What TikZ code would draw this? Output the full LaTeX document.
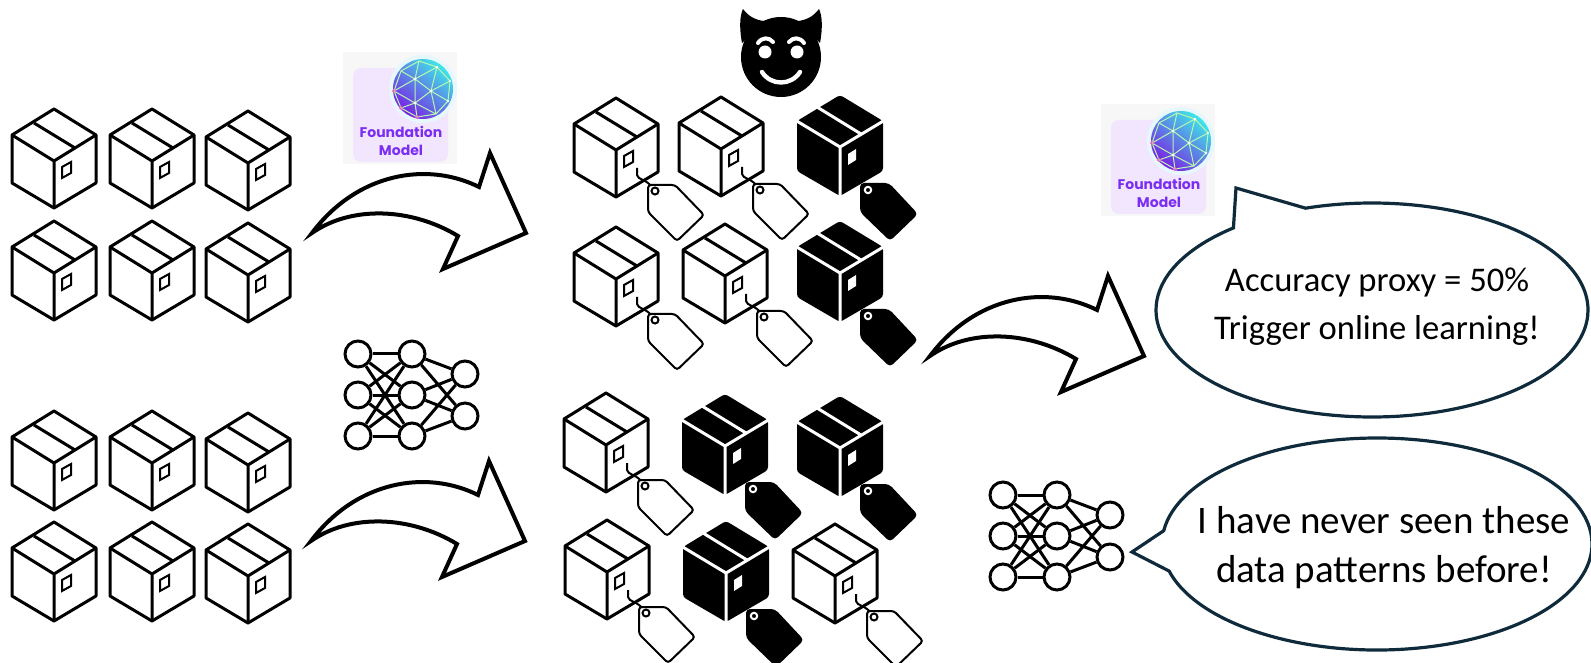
\documentclass[tikz,border=0pt]{standalone}
\usepackage{fontspec}
\usetikzlibrary{shapes.callouts}
\newfontfamily\talkfont{Carlito}
\newfontfamily\fmfont{Poppins}
\definecolor{fmpurple}{HTML}{7B2EF2}
\definecolor{fmback}{HTML}{F1E6FD}
\definecolor{talkline}{HTML}{0F2B3B}
\definecolor{meshgreen}{HTML}{B8F7B0}
\definecolor{globetop}{HTML}{3EE6E8}
\definecolor{globemid}{HTML}{2277F2}
\definecolor{globelow}{HTML}{7A1FE4}

\tikzset{
  outline/.style={line width=1.5pt, line join=round},
  tagline/.style={line width=1pt},
  neuron/.style={draw, circle, fill=white, line width=1.5pt, minimum size=13pt, inner sep=0pt},
  talk/.style={draw=talkline, ellipse callout, line width=1.6pt, fill=white, inner sep=0pt, callout pointer arc=22},
  % open cardboard box
  crate/.pic={
    \draw[outline, fill=white] (0,-50) -- (42,-24) -- (42,24) -- (0,49) -- (-42,24) -- (-42,-24) -- cycle;
    \draw[outline] (-42,-24) -- (0,2) -- (42,-24) (0,2) -- (0,49) (-20,-36) -- (21,-11);
    \draw[tagline] (8,8) -- (17,3) -- (17,14) -- (8,19) -- cycle;
  },
  tag/.pic={
    \draw[tagline, rounded corners=1.5pt, fill=white] (-7,-6) -- (-7,21) -- (22,50) -- (49,24) -- (20,-6) -- cycle;
    \draw[tagline] (0,0) circle (3.5);
  },
  darktag/.pic={
    \fill[rounded corners=2pt] (-8,-7) -- (-8,22) -- (22,51) -- (50,24) -- (21,-7) -- cycle;
    \draw[white, tagline] (0,0) circle (3.2);
  },
  tcrate/.pic={
    \pic {crate};
    \draw[tagline] (21,20) -- (21,27) .. controls (22,32) and (30,31) .. (36,39);
    \pic at (39,43) {tag};
  },
  % filled box, poisoned label
  dcrate/.pic={
    \fill[rounded corners=1.5pt] (0,-51) -- (43,-25) -- (43,25) -- (0,50) -- (-43,25) -- (-43,-25) -- cycle;
    \draw[white, line width=1.5pt] (-45,-26) -- (0,1) -- (45,-26) (0,1) -- (0,52) (-23,-39) -- (21,-12);
    \fill[white] (8,8) -- (16,3) -- (16,14) -- (8,19) -- cycle;
    \pic at (28,44) {darktag};
  },
  nnet/.pic={
    \foreach \r [count=\k] in {-41,0,41} {
      \node[neuron] (-a\k) at (0,\r) {};
      \node[neuron] (-b\k) at (54,\r) {};
    }
    \node[neuron] (-c1) at (107,-21) {};
    \node[neuron] (-c2) at (107,21) {};
    \foreach \i in {1,2,3} {
      \foreach \j in {1,2,3} \draw[line width=1.5pt] (-a\i) -- (-b\j);
      \foreach \j in {1,2} \draw[line width=1.5pt] (-b\i) -- (-c\j);
    }
  },
  bend/.pic={
    \draw[line width=2pt, miter limit=8, fill=white] (0,0) .. controls (45,-60) and (115,-72) .. (167,-46) -- (178,-80) -- (214,0) -- (131,36) -- (146,3) .. controls (100,-25) and (40,-28) .. (0,0) -- cycle;
  },
  devil/.pic={
    \fill (0,0) circle (40);
    \foreach \s in {1,-1} {
      \fill[xscale=\s] (-39,-14) .. controls (-42,-30) and (-41,-42) .. (-38,-48) .. controls (-32,-40) and (-25,-37) .. (-17,-36) -- cycle;
      \draw[white, line width=2pt, line cap=round, xscale=\s] (-23,-14) .. controls (-19,-20) and (-12,-20) .. (-8,-15);
      \fill[white, xscale=\s] (-16,-5) circle (6.5);
    }
    \draw[white, line width=2.2pt, line cap=round] (-19,15) .. controls (-10,29) and (10,29) .. (19,15);
  },
  fmodel/.pic={
    \fill[gray!6] (0,0) rectangle (114,112);
    \fill[fmback, rounded corners=4pt] (10,16) rectangle (105,110);
    \fill[cyan!10] (80,37) circle (34);
    \shade[top color=globetop, middle color=globemid, bottom color=globelow, shading angle=-40] (80,37) circle (30);
    \begin{scope}[shift={(80,37)}]
      \draw[meshgreen, line width=0.5pt] (-4,-28) -- (14,-22) -- (27,-8) -- (25,12) -- (13,25) -- (-6,28) -- (-22,19) -- (-29,2) -- (-22,-18) -- cycle
        (-4,-28) -- (-8,-10) -- (14,-22) -- (8,2) -- (27,-8) (8,2) -- (25,12) (8,2) -- (13,25)
        (8,2) -- (-8,14) -- (-6,28) (-8,14) -- (-22,19) (-8,14) -- (-29,2) (-8,-10) -- (-22,-18)
        (-8,-10) -- (-29,2) (-8,-10) -- (8,2) (-8,-10) -- (-8,14) (-8,14) -- (13,25);
      \fill[white] (14,-22) circle (1.4) (8,2) circle (1.4) (-8,-10) circle (1.4) (-8,14) circle (1.4) (25,12) circle (1.4) (27,-8) circle (1.2);
      \draw[magenta!60, line width=0.4pt] (-22,19) circle (1.6) (-6,28) circle (1.6) (-29,2) circle (1.6);
    \end{scope}
    \node[fmpurple, font={\fmfont\bfseries\fontsize{7}{8.7}\selectfont}, align=center] (-name) at (58,89) {Foundation\\Model};
  },
}

\begin{document}
\begin{tikzpicture}[x=0.5pt, y=-0.5pt]
  \useasboundingbox (0,0) rectangle (1591,663);

  % unlabelled data
  \foreach \y [count=\r] in {159,271,461,572} {
    \pic (rawA\r) at (54,\y) {crate};
    \pic (rawB\r) at (152,\y) {crate};
    \pic (rawC\r) at (248,\y+2) {crate};
  }

  \pic (fmA) at (343,52) {fmodel};
  \pic (netA) at (358,395) {nnet};
  \pic (arrA) at (312,233) {bend};
  \pic (arrB) at (311,541) {bend};

  % labelled data, some poisoned
  \pic (imp) at (781,57) {devil};
  \pic (lab11) at (616,148) {tcrate};
  \pic (lab12) at (721,147) {tcrate};
  \pic (lab13) at (840,146) {dcrate};
  \pic (lab21) at (616,277) {tcrate};
  \pic (lab22) at (725,274) {tcrate};
  \pic (lab23) at (840,272) {dcrate};
  \pic (lab31) at (606,443) {tcrate};
  \pic (lab32) at (725,445) {dcrate};
  \pic (lab33) at (840,447) {dcrate};
  \pic (lab41) at (607,570) {tcrate};
  \pic (lab42) at (726,572) {dcrate};
  \pic (lab43) at (835,574) {tcrate};

  \pic (arrC) at (930,356) {bend};
  \pic (fmB) at (1101,104) {fmodel};
  \pic (netB) at (1003,536) {nnet};

  % speech bubbles
  \node (proxy) [talk, minimum width=216pt, minimum height=107pt, callout absolute pointer={(1236,188)}] at (1372,310) {};
  \node (proxytext) [font={\talkfont\fontsize{17.3}{24}\selectfont}, align=center] at (1377,307) {Accuracy proxy = 50\%\\Trigger online learning!};
  \node (unseen) [talk, minimum width=215pt, minimum height=106pt, callout absolute pointer={(1132,552)}] at (1377,544) {};
  \node (unseentext) [font={\talkfont\fontsize{19.5}{24.5}\selectfont}, align=center] at (1384,548) {I have never seen these\\data patterns before!};
\end{tikzpicture}
\end{document}
